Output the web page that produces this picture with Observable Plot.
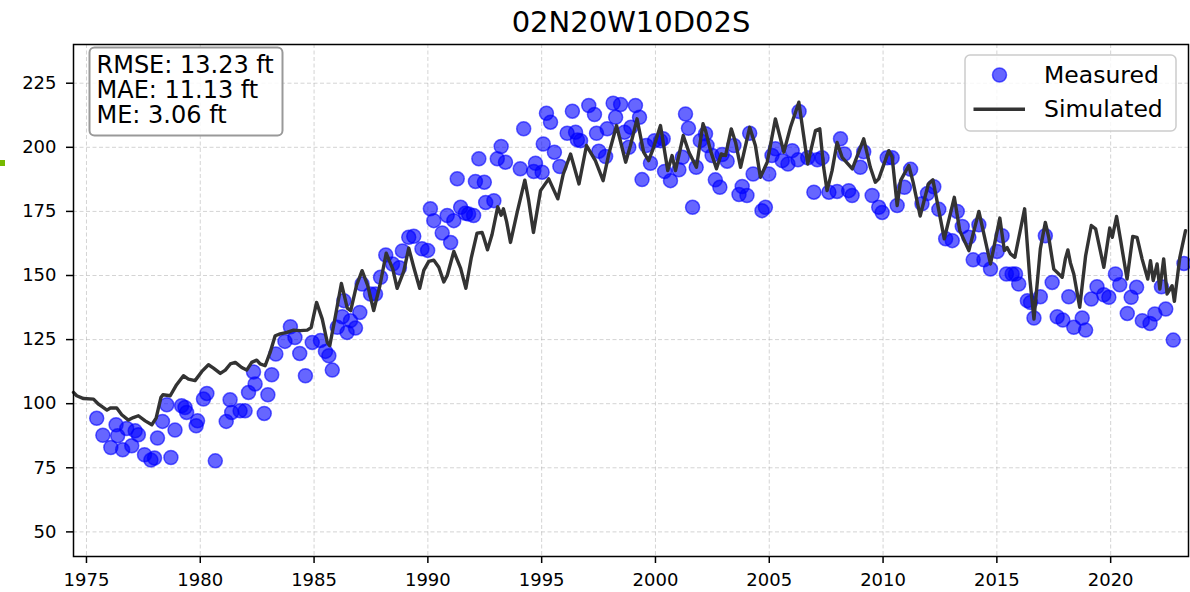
<!DOCTYPE html>
<html><head><meta charset="utf-8">
<script src="https://cdn.jsdelivr.net/npm/d3@7"></script>
<script src="https://cdn.jsdelivr.net/npm/@observablehq/plot@0.6"></script>
<style>
html,body{margin:0;padding:0;background:#fff;}
#chart{position:relative;width:1190px;height:592px;overflow:hidden;}
</style></head><body><div id="chart"></div>
<script>
const title = "02N20W10D02S";
const statsLines = ["RMSE: 13.23 ft", "MAE: 11.13 ft", "ME: 3.06 ft"];
const legendLabels = ["Measured", "Simulated"];
const xTicks = [1975, 1980, 1985, 1990, 1995, 2000, 2005, 2010, 2015, 2020];
const yTicks = [50, 75, 100, 125, 150, 175, 200, 225];

const measuredYear = [
1975.45,1975.72,1976.07,1976.30,1976.37,1976.59,1976.77,1976.99,1977.14,1977.28,
1977.55,1977.83,1977.99,1978.12,1978.34,1978.53,1978.71,1978.89,1979.18,1979.33,
1979.40,1979.82,1979.88,1980.14,1980.29,1980.66,1981.14,1981.31,1981.38,1981.75,
1981.97,1982.12,1982.34,1982.41,1982.81,1982.97,1983.14,1983.32,1983.72,1983.96,
1984.16,1984.37,1984.62,1984.92,1985.28,1985.50,1985.65,1985.80,1986.02,1986.24,
1986.31,1986.45,1986.60,1986.82,1987.01,1987.11,1987.48,1987.70,1987.92,1988.15,
1988.45,1988.75,1988.88,1989.16,1989.38,1989.74,1989.99,1990.11,1990.26,1990.63,
1990.85,1991.00,1991.14,1991.29,1991.44,1991.65,1991.79,1992.01,1992.09,1992.24,
1992.48,1992.54,1992.90,1993.05,1993.22,1993.41,1994.06,1994.21,1994.65,1994.73,
1995.02,1995.07,1995.21,1995.39,1995.56,1995.80,1996.12,1996.35,1996.49,1996.57,
1996.71,1997.07,1997.32,1997.41,1997.51,1997.81,1997.88,1998.14,1998.25,1998.47,
1998.64,1998.83,1998.92,1999.12,1999.30,1999.41,1999.59,1999.78,1999.96,2000.22,
2000.34,2000.40,2000.66,2001.03,2001.18,2001.32,2001.45,2001.63,2001.79,2001.97,
2002.20,2002.27,2002.49,2002.63,2002.83,2002.93,2003.15,2003.45,2003.67,2003.81,
2004.02,2004.14,2004.29,2004.68,2004.83,2004.98,2005.12,2005.27,2005.57,2005.82,
2006.01,2006.26,2006.31,2006.69,2006.96,2007.11,2007.32,2007.62,2007.98,2008.13,
2008.30,2008.49,2008.64,2009.00,2009.15,2009.52,2009.81,2009.96,2010.18,2010.40,
2010.62,2010.94,2011.21,2011.71,2011.95,2012.23,2012.45,2012.75,2013.04,2013.26,
2013.48,2013.77,2013.96,2014.21,2014.43,2014.72,2015.01,2015.23,2015.42,2015.67,
2015.82,2015.96,2016.34,2016.48,2016.63,2016.91,2017.13,2017.43,2017.65,2017.90,
2018.16,2018.38,2018.75,2018.90,2019.15,2019.40,2019.70,2019.92,2020.21,2020.40,
2020.73,2020.90,2021.14,2021.39,2021.73,2021.94,2022.23,2022.42,2022.75,2023.22];

const measuredLevel = [
94.3,87.7,82.9,91.8,87.5,82.0,90.3,83.6,89.4,87.9,
80.1,78.0,78.8,86.6,93.1,99.6,79.0,89.7,99.2,98.5,
96.6,91.4,93.3,101.8,104.0,77.7,93.1,101.5,96.6,97.2,
97.2,104.4,112.4,107.7,96.2,103.5,111.3,119.4,124.3,130.0,
125.8,119.6,110.9,123.9,124.6,120.4,118.7,113.1,129.8,133.9,
140.2,127.8,132.4,129.5,135.6,146.7,142.8,142.8,149.3,158.0,
154.5,153.0,159.6,164.9,165.3,160.4,159.8,176.0,171.4,166.6,
173.4,162.9,171.4,187.7,176.6,174.3,174.0,173.4,186.7,195.5,
186.4,178.5,179.2,195.5,200.3,194.2,191.6,207.2,190.6,193.8,
190.3,201.3,213.3,209.8,198.1,192.5,205.5,214.1,205.9,202.9,
202.6,216.3,212.8,205.5,198.5,196.4,207.2,217.2,211.7,216.7,
205.9,200.0,207.8,216.3,211.7,187.4,200.7,193.8,202.6,202.6,
203.3,190.6,187.0,191.2,196.1,213.0,207.4,176.6,192.2,202.6,
205.3,200.7,196.8,187.3,184.4,197.2,194.6,200.7,181.6,184.7,
181.2,205.5,189.6,175.3,176.6,189.6,196.8,199.4,194.8,193.5,
198.7,195.1,214.0,195.9,182.5,195.1,195.9,182.5,182.8,203.3,
197.4,183.1,181.2,192.2,198.3,181.2,176.6,174.6,195.9,195.9,
177.3,184.4,191.4,178.0,182.0,184.6,175.8,164.3,163.6,175.0,
169.1,164.9,156.1,169.8,156.1,152.5,159.4,165.5,150.6,150.6,
150.6,146.7,140.2,139.5,133.4,141.7,165.5,147.3,133.9,132.6,
141.7,129.8,133.4,128.7,140.8,145.6,142.5,141.5,150.6,146.4,
135.2,141.5,145.4,132.4,131.3,135.0,145.6,136.9,124.8,154.7];

const simYear = [
1974.43,1974.57,1974.87,1975.31,1975.53,1975.90,1976.05,1976.33,1976.55,1976.84,
1977.06,1977.28,1977.58,1977.87,1978.06,1978.27,1978.36,1978.68,1978.96,1979.26,
1979.48,1979.77,1980.07,1980.36,1980.58,1980.88,1981.10,1981.32,1981.54,1981.82,
1982.04,1982.26,1982.48,1982.63,1982.85,1983.07,1983.29,1983.51,1983.81,1984.10,
1984.40,1984.70,1984.87,1985.11,1985.36,1985.58,1985.69,1985.94,1986.20,1986.46,
1986.61,1986.86,1987.11,1987.36,1987.62,1987.89,1988.17,1988.46,1988.65,1988.94,
1989.16,1989.38,1989.64,1989.82,1990.04,1990.26,1990.48,1990.70,1990.85,1991.14,
1991.44,1991.67,1991.91,1992.16,1992.38,1992.45,1992.62,1992.82,1993.07,1993.22,
1993.32,1993.46,1993.63,1993.92,1994.26,1994.43,1994.64,1994.95,1995.31,1995.71,
1995.95,1996.27,1996.64,1996.97,1997.36,1997.70,1997.95,1998.29,1998.69,1998.90,
1999.19,1999.48,1999.70,1999.92,2000.22,2000.54,2000.73,2000.88,2001.22,2001.47,
2001.80,2002.09,2002.20,2002.42,2002.68,2002.89,2003.08,2003.33,2003.52,2003.74,
2004.14,2004.39,2004.61,2004.91,2005.27,2005.64,2005.93,2006.30,2006.69,2007.03,
2007.22,2007.39,2007.54,2007.76,2007.98,2008.20,2008.65,2009.15,2009.44,2009.66,
2009.81,2010.25,2010.40,2010.62,2010.77,2011.13,2011.32,2011.63,2011.99,2012.19,
2012.34,2012.69,2013.13,2013.37,2013.77,2014.21,2014.72,2015.13,2015.33,2015.45,
2015.60,2015.79,2016.22,2016.45,2016.63,2016.91,2017.13,2017.28,2017.50,2017.87,
2018.01,2018.12,2018.23,2018.38,2018.64,2018.90,2019.15,2019.34,2019.70,2019.96,
2020.07,2020.26,2020.44,2020.72,2020.97,2021.16,2021.38,2021.63,2021.75,2021.87,
2022.04,2022.16,2022.33,2022.48,2022.70,2022.80,2023.04,2023.29];

const simLevel = [
104.4,103.1,102.0,101.8,99.8,97.5,98.3,98.3,95.7,93.6,
94.6,95.3,93.3,91.8,94.4,102.4,103.5,103.1,107.4,110.9,
109.6,109.0,112.6,115.2,113.9,111.8,113.1,115.5,116.1,114.1,
113.1,116.1,117.0,115.5,114.8,120.0,126.5,127.2,127.8,128.7,
128.5,128.7,129.7,139.5,133.0,123.9,122.6,134.3,146.9,137.3,
136.3,146.0,151.9,146.0,136.3,146.0,158.7,152.5,145.0,151.6,
160.7,153.2,145.0,152.0,155.5,156.0,153.2,147.5,150.0,159.4,
152.8,145.0,157.0,166.5,166.8,165.0,160.0,166.0,176.8,173.5,
176.0,171.0,162.9,174.5,187.2,179.2,166.8,183.1,187.7,179.9,
189.6,197.4,185.7,200.7,194.8,187.0,197.4,208.5,194.2,200.7,
211.1,198.1,194.8,200.0,208.5,190.9,196.8,190.9,204.6,198.1,
192.2,209.2,206.5,198.7,191.6,197.4,196.8,207.2,201.9,192.2,
207.8,200.7,188.3,194.2,211.1,198.1,207.8,217.6,193.5,206.5,
207.2,192.2,183.1,190.9,201.9,196.1,191.6,203.3,192.2,186.4,
187.7,198.7,196.1,177.3,187.0,192.9,186.4,173.2,185.7,187.3,
180.5,164.3,180.5,167.5,159.7,175.0,154.5,172.4,159.7,160.9,
158.4,157.1,176.0,148.6,133.0,160.4,170.7,164.9,152.5,149.3,
156.5,160.0,155.0,150.6,137.6,157.7,169.5,168.2,153.2,168.5,
164.9,173.0,163.6,148.6,165.2,164.9,156.5,148.6,155.8,148.0,
154.5,144.7,156.5,142.8,146.0,139.9,157.1,167.5];

const measured = measuredYear.map((x, i) => ({x, y: measuredLevel[i]}));
const simulated = simYear.map((x, i) => ({x, y: simLevel[i]}));

const FONT = "'DejaVu Sans', 'Liberation Sans', sans-serif";
const BLUE = "#0000ff";
const LINE = "#333333";

const plot = Plot.plot({
  width: 1190,
  height: 592,
  marginLeft: 73,
  marginRight: 2,
  marginTop: 44,
  marginBottom: 36,
  style: {fontFamily: FONT, fontSize: "18px", color: "#000", background: "#fff", overflow: "visible"},
  x: {domain: [1974.43, 2023.42], label: null},
  y: {domain: [40.4, 240.1], label: null},
  marks: [
    Plot.gridX(xTicks, {stroke: "#b0b0b0", strokeOpacity: 0.55, strokeDasharray: "4,2.5", strokeWidth: 1}),
    Plot.gridY(yTicks, {stroke: "#b0b0b0", strokeOpacity: 0.55, strokeDasharray: "4,2.5", strokeWidth: 1}),
    Plot.dot(measured, {x: "x", y: "y", r: 7, fill: BLUE, fillOpacity: 0.6, stroke: BLUE, strokeOpacity: 0.6, strokeWidth: 1.5}),
    Plot.line(simulated, {x: "x", y: "y", stroke: LINE, strokeWidth: 3.4, strokeLinejoin: "round", curve: "linear"}),
    Plot.axisX(xTicks, {tickSize: 7, tickPadding: 10, tickFormat: d => String(d), strokeWidth: 1.5, fontSize: 18, label: null}),
    Plot.axisY(yTicks, {tickSize: 7, tickPadding: 10, strokeWidth: 1.5, fontSize: 18, label: null}),
    Plot.frame({stroke: "#000", strokeWidth: 1.5}),
    Plot.text([title], {frameAnchor: "top", lineAnchor: "bottom", dy: -13, fontSize: 29, fill: "#000"})
  ]
});

document.getElementById("chart").appendChild(plot);

const svg = d3.select(plot);

// small green mark at left edge
svg.append("rect").attr("x", 0).attr("y", 160).attr("width", 5).attr("height", 6).attr("fill", "#76b900");

// stats box
const sg = svg.append("g").attr("font-family", FONT).attr("font-size", 24).attr("text-anchor", "start");
sg.append("rect").attr("x", 89.5).attr("y", 47.5).attr("width", 193).attr("height", 88)
  .attr("rx", 5).attr("fill", "#fff").attr("fill-opacity", 0.85).attr("stroke", "#999").attr("stroke-width", 2);
statsLines.forEach((t, i) => {
  sg.append("text").attr("x", 96.5).attr("y", 72.7 + i * 25.3).attr("text-anchor", "start").attr("fill", "#000").text(t);
});

// legend
const lg = svg.append("g").attr("font-family", FONT).attr("font-size", 23.5).attr("text-anchor", "start");
lg.append("rect").attr("x", 965).attr("y", 55).attr("width", 211).attr("height", 76)
  .attr("rx", 5).attr("fill", "#fff").attr("fill-opacity", 0.8).attr("stroke", "#cccccc").attr("stroke-width", 1.5);
lg.append("circle").attr("cx", 999.5).attr("cy", 75).attr("r", 7)
  .attr("fill", BLUE).attr("fill-opacity", 0.6).attr("stroke", BLUE).attr("stroke-opacity", 0.6).attr("stroke-width", 1.5);
lg.append("line").attr("x1", 973.5).attr("x2", 1025).attr("y1", 109.3).attr("y2", 109.3)
  .attr("stroke", LINE).attr("stroke-width", 3.4);
lg.append("text").attr("x", 1044).attr("y", 83.3).attr("text-anchor", "start").attr("fill", "#000").text(legendLabels[0]);
lg.append("text").attr("x", 1044).attr("y", 116.7).attr("text-anchor", "start").attr("fill", "#000").text(legendLabels[1]);
</script>
</body></html>
